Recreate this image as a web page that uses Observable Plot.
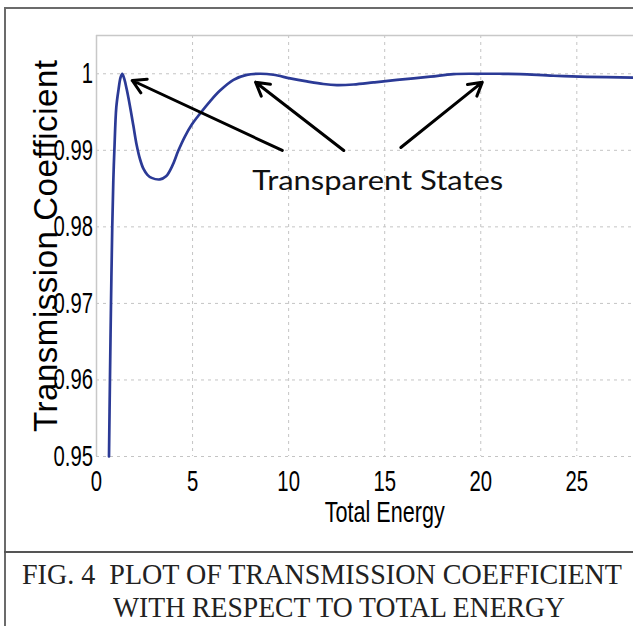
<!DOCTYPE html>
<html><head><meta charset="utf-8">
<script src="https://cdn.jsdelivr.net/npm/d3@7"></script>
<script src="https://cdn.jsdelivr.net/npm/@observablehq/plot@0.6"></script>
<style>
html,body{margin:0;padding:0;background:#fff;overflow:hidden;}
#wrap{position:relative;width:633px;height:626px;overflow:hidden;}
#chart{position:absolute;left:0;top:0;}
#frame{position:absolute;left:4px;top:7px;width:700px;height:700px;border-left:2px solid #6b6b6b;border-top:2px solid #6b6b6b;box-sizing:border-box;}
#sep{position:absolute;left:4px;top:551px;width:640px;height:2px;background:#555;}
.cap{position:absolute;font-family:"Liberation Serif","Times New Roman",serif;font-size:30px;line-height:30px;color:#222;white-space:pre;transform-origin:0 0;}
</style></head><body>
<div id="wrap"><div id="chart"></div><div id="frame"></div><div id="sep"></div>
<div class="cap" id="cap1"></div><div class="cap" id="cap2"></div></div>
<script>
// ---- data ----
const energy = [0.65,0.70,0.755,0.82,0.875,0.93,1.03,1.15,1.25,1.34,1.45,1.57,1.74,1.92,2.09,2.27,2.44,2.65,2.87,3.30,3.62,3.95,4.25,4.60,4.97,5.39,5.91,6.43,7.13,7.82,8.52,9.21,10.08,10.95,11.81,12.51,13.38,14.42,15.64,17.37,18.58,19.97,21.0,22.05,23.78,25.53,27.95];
const transmission = [0.95,0.96,0.97,0.98,0.986,0.990,0.9956,0.998,0.9995,1.0,0.9993,0.998,0.9958,0.9932,0.9907,0.9888,0.9876,0.9868,0.9864,0.9862,0.9866,0.9880,0.9899,0.9918,0.9934,0.9948,0.9964,0.9978,0.9992,0.99985,1.0,0.99987,0.9994,0.9990,0.99866,0.99852,0.9986,0.99887,0.9992,0.99962,0.99996,1.0,1.0,0.99996,0.99974,0.9996,0.9995];
const xTicks = [0,5,10,15,20,25];
const yTicks = [0.95,0.96,0.97,0.98,0.99,1];
const arrowTailX = [9.67, 12.87, 15.84];
const arrowTailY = [0.98998, 0.98998, 0.99037];
const arrowTipX = [1.86, 8.28, 20.08];
const arrowTipY = [0.99912, 0.99890, 0.99890];
const annotationText = "Transparent States";
const annotationX = 14.64, annotationY = 0.98594;
const xLabel = "Total Energy";
const xLabelAt = 15;
const yLabel = "Transmission Coefficient";
const captionLines = ["FIG. 4  PLOT OF TRANSMISSION COEFFICIENT", "WITH RESPECT TO TOTAL ENERGY"];

const data = energy.map((e, i) => ({e, t: transmission[i]}));
const arrows = arrowTailX.map((x, i) => ({x1: x, y1: arrowTailY[i], x2: arrowTipX[i], y2: arrowTipY[i]}));
const gridStyle = {stroke: "#c4c4c4", strokeOpacity: 1, strokeDasharray: "3,4", strokeWidth: 1};

const plot = Plot.plot({
  width: 633, height: 552,
  marginLeft: 96, marginRight: 0, marginTop: 35, marginBottom: 96,
  style: {fontFamily: '"Liberation Sans", Arial, sans-serif', background: "transparent", color: "#000", overflow: "visible"},
  x: {domain: [0, 27.95]},
  y: {domain: [0.95, 1.005]},
  marks: [
    Plot.gridX(xTicks, gridStyle),
    Plot.gridY(yTicks, gridStyle),
    Plot.ruleX([0], {stroke: "#c8c8c8", strokeWidth: 1.5}),
    Plot.ruleY([1.005], {stroke: "#c8c8c8", strokeWidth: 1.5}),
    Plot.axisX(xTicks, {tickSize: 0, tickPadding: 14, fontSize: 29, label: null, tickFormat: d => String(d), fill: "#000"}),
    Plot.axisY(yTicks, {tickSize: 0, tickPadding: 3.5, fontSize: 29, label: null, tickFormat: d => String(d), fill: "#000"}),
    Plot.line(data, {x: "e", y: "t", stroke: "#2b3a96", strokeWidth: 2.7, curve: "catmull-rom"}),
    Plot.arrow(arrows, {x1: "x1", y1: "y1", x2: "x2", y2: "y2", stroke: "#000", strokeWidth: 3, headLength: 7.5, headAngle: 60}),
    Plot.text([{x: annotationX, y: annotationY, s: annotationText}], {x: "x", y: "y", text: "s", fontSize: 27, fontFamily: "Lato, 'Open Sans', sans-serif", fill: "#111", lineAnchor: "middle", textAnchor: "middle"}),
    Plot.text([{x: xLabelAt, s: xLabel}], {x: "x", text: "s", frameAnchor: "bottom", lineAnchor: "top", dy: 44, fontSize: 30, fill: "#000", textAnchor: "middle"}),
    Plot.text([yLabel], {frameAnchor: "left", rotate: -90, lineAnchor: "middle", textAnchor: "middle", dx: -50, fontSize: 33, fill: "#000"})
  ]
});
document.getElementById("chart").appendChild(plot);

function squeeze(t, s) {
  const bb = t.getBBox();
  const anchor = getComputedStyle(t).textAnchor;
  const ax = anchor === "end" ? bb.x + bb.width : anchor === "middle" ? bb.x + bb.width / 2 : bb.x;
  const tr = t.getAttribute("transform") || "";
  t.setAttribute("transform", `${tr} translate(${ax},0) scale(${s},1) translate(${-ax},0)`);
}
plot.querySelectorAll('g[aria-label="x-axis tick label"] text, g[aria-label="y-axis tick label"] text').forEach(t => squeeze(t, 0.7));
plot.querySelectorAll("text").forEach(t => {
  if (t.textContent === yLabel) { t.setAttribute("textLength", 372); t.setAttribute("lengthAdjust", "spacing"); }
  if (t.textContent === xLabel) { t.setAttribute("textLength", 120); t.setAttribute("lengthAdjust", "spacingAndGlyphs"); }
  if (t.textContent === annotationText) { t.setAttribute("textLength", 251); t.setAttribute("lengthAdjust", "spacingAndGlyphs"); }
});

const caps = [["cap1", 22, 559, 600], ["cap2", 113, 592, 452]];
caps.forEach(([id, left, top, w], i) => {
  const el = document.getElementById(id);
  el.textContent = captionLines[i];
  el.style.left = left + "px"; el.style.top = top + "px";
  const cw = el.getBoundingClientRect().width;
  el.style.transform = `scaleX(${w / cw})`;
});
</script>
</body></html>
